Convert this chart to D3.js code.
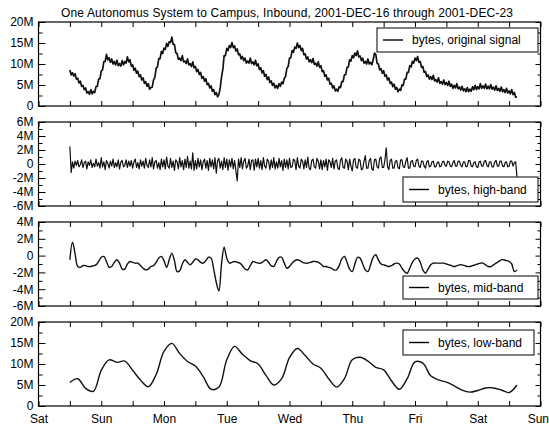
<!DOCTYPE html>
<html>
<head>
<meta charset="utf-8">
<script src="https://cdn.jsdelivr.net/npm/d3@7"></script>
<style>
  body { margin: 0; background: #fff; }
  svg { display: block; font-family: "Liberation Sans", Arial, sans-serif; }
</style>
</head>
<body>
<svg id="chart" width="549" height="429"></svg>
<script>
// days on the x axis (Sat .. Sun)
const dayNames = ["Sat", "Sun", "Mon", "Tue", "Wed", "Thu", "Fri", "Sat", "Sun"];
const startDay = 0.5; // first sample: Saturday noon

// bytes, original signal - one sample every 30 minutes
const original = [
  8.6, 7.4, 7.9, 7.1, 7.7, 6.4, 6.6, 5.5, 5.9, 4.7, 4.9, 3.9, 4.3, 3.1, 3.4, 2.8, 3.9, 2.9, 3.5, 3.2, 4.6, 4.7, 6.4, 6.5,
  8.3, 8.6, 10.6, 10.6, 12.3, 11.0, 11.5, 10.4, 11.2, 10.0, 10.6, 9.8, 10.9, 9.6, 10.1, 9.5, 10.8, 9.8, 10.6, 10.2, 11.7, 10.5, 11.0, 9.5,
  9.8, 8.5, 9.0, 7.8, 8.3, 7.0, 7.4, 6.2, 6.7, 5.4, 5.8, 4.7, 5.3, 4.0, 4.4, 4.5, 6.2, 6.8, 9.0, 9.3, 11.3, 11.3, 13.0, 12.5,
  13.8, 13.5, 14.9, 14.2, 15.3, 15.1, 16.4, 14.7, 14.6, 12.7, 12.5, 11.1, 11.4, 10.8, 12.0, 10.5, 10.7, 10.1, 11.2, 9.8, 10.1, 9.4, 10.5, 9.1,
  9.4, 8.2, 8.7, 7.5, 8.0, 6.6, 7.0, 5.9, 6.5, 5.1, 5.4, 4.3, 4.8, 3.5, 3.9, 2.7, 3.2, 2.2, 2.7, 4.3, 6.9, 8.7, 12.0, 12.0,
  13.7, 13.2, 14.4, 13.9, 15.1, 13.9, 14.3, 13.1, 13.6, 12.2, 12.4, 11.2, 11.8, 10.8, 11.4, 10.2, 10.7, 10.2, 11.4, 10.1, 10.5, 9.8, 10.9, 9.6,
  10.0, 8.7, 9.1, 7.9, 8.4, 7.1, 7.5, 6.3, 6.9, 5.6, 6.0, 4.9, 5.4, 4.3, 4.9, 4.2, 5.3, 4.7, 5.7, 5.3, 6.6, 7.0, 9.0, 9.4,
  11.4, 11.5, 13.2, 12.8, 14.0, 13.7, 15.0, 13.9, 14.4, 13.2, 13.7, 12.2, 12.4, 11.2, 11.7, 10.5, 11.0, 10.3, 11.3, 9.9, 10.2, 9.5, 10.5, 9.2,
  9.6, 8.2, 8.4, 7.1, 7.4, 6.2, 6.6, 5.2, 5.4, 4.3, 4.8, 3.6, 4.0, 3.5, 4.6, 4.4, 5.8, 5.8, 7.4, 7.5, 9.2, 9.3, 11.0, 10.7,
  12.0, 11.5, 12.6, 12.0, 13.1, 11.7, 11.9, 10.8, 11.4, 10.2, 10.6, 10.0, 11.2, 10.0, 10.4, 9.8, 11.0, 12.6, 12.3, 10.2, 10.0, 8.6, 8.9, 7.8,
  8.4, 7.1, 7.4, 6.2, 6.7, 5.4, 5.7, 4.6, 5.2, 4.0, 4.4, 3.4, 4.0, 3.7, 5.0, 4.9, 6.4, 6.4, 8.0, 8.0, 9.6, 9.3, 10.6, 10.2,
  11.4, 10.8, 11.8, 10.4, 10.6, 9.2, 9.4, 8.0, 8.2, 7.0, 7.4, 6.4, 7.0, 6.3, 7.3, 6.0, 6.3, 5.7, 6.7, 5.4, 5.8, 5.2, 6.2, 5.1,
  5.6, 4.9, 5.9, 4.7, 5.2, 4.2, 4.9, 4.3, 5.3, 4.1, 4.5, 3.8, 4.7, 3.6, 4.1, 3.4, 4.4, 3.4, 4.0, 3.5, 4.6, 3.9, 4.9, 3.9,
  4.6, 4.1, 5.3, 4.2, 4.8, 4.2, 5.2, 4.1, 4.7, 4.1, 5.1, 4.0, 4.5, 3.8, 4.8, 3.7, 4.2, 3.5, 4.5, 3.4, 3.9, 3.2, 4.2, 3.1,
  3.6, 2.9, 3.9, 2.7, 3.2, 2.1, 2.2
];

// bytes, high-band - one sample every 30 minutes
const highBand = [
  2.5, -1.2, 0.3, -0.6, 0.4, -0.2, 0.5, -0.4, -0.1, 0.6, -0.5, 0.2, 0.4, -0.7, 0.3, -0.2, 0.6, -0.5, 0.1, -0.4, 0.7, -0.3, 0.2, -0.6,
  0.9, -0.4, 0.3, -0.8, 0.5, 0.1, -0.6, 0.4, -0.3, 0.7, -0.5, 0.2, -0.4, 0.6, -0.7, 0.3, 0.5, -0.4, -0.2, 0.6, -0.5, 0.4, -0.3, 0.5,
  -0.6, 0.3, 0.7, -0.5, 0.2, -0.7, 0.6, -0.3, 0.4, -0.6, 0.8, -0.2, -0.5, 0.6, -0.4, 0.9, -0.7, 0.3, 0.5, -0.6, 0.2, -0.8, 0.7, -0.4,
  0.6, -0.7, 1.0, -0.3, -0.6, 0.8, -0.5, 0.4, -0.9, 0.6, 0.3, -0.7, 0.9, -0.4, 0.5, -0.8, 0.7, -0.5, 1.1, -0.6, 0.4, -0.7, 1.6, -0.9,
  0.5, -0.7, 0.8, -0.4, 0.6, -0.8, 0.3, 0.7, -0.6, 0.5, -0.9, 0.8, -0.4, 0.6, -0.7, 0.9, -1.3, 0.5, 0.8, -0.6, 0.4, -0.8, 0.9, -0.5,
  0.7, -0.9, 0.6, -0.4, 0.8, -0.7, 0.5, -1.0, -2.4, 0.7, -0.5, 0.9, -0.7, 0.4, 0.8, -0.6, -0.3, 0.7, -0.8, 0.5, 0.6, -0.9, 0.7, -0.4,
  0.8, -0.6, 0.5, -0.8, 0.9, -0.3, -0.6, 0.7, 0.4, -0.8, 0.6, -0.5, 0.9, -0.7, 0.3, -0.6, 0.8, -0.4, 0.5, -0.9, 0.7, -0.5, 0.6, -0.7,
  0.8, -0.5, -0.4, 0.7, 0.5, -0.8, 0.9, -0.3, -0.6, 0.7, 0.4, -0.7, 0.6, -0.5, 1.0, -0.6, -0.8, 0.5, 0.7, -0.4, -0.6, 0.8, 0.4, -0.7,
  0.6, -0.8, 0.5, -0.4, 0.7, -0.9, 0.6, 0.3, -0.5, 0.8, -0.7, 0.4, 0.6, -0.6, -0.8, 0.5, 0.9, -0.5, -0.6, 0.7, 0.4, -0.8, 0.7, -0.3,
  -1.0, 0.6, 0.8, -0.5, -0.6, 0.7, 0.5, -0.8, -0.7, 0.4, 1.2, -0.6, -0.6, 0.5, 0.8, -0.7, -0.9, 0.6, 0.7, -0.4, -0.6, 0.8, 1.0, -0.5,
  -0.5, 0.6, 2.3, -0.4, -0.8, 0.5, 0.7, -0.6, -0.6, 0.4, 0.5, -0.5, -0.7, 0.6, 0.6, -0.4, -0.5, 0.4, 0.9, -0.6, -0.6, 0.4, 0.5, -0.3,
  -0.4, 0.5, 0.7, -0.3, -0.5, 0.4, 0.4, -0.3, -0.6, 0.3, 0.5, -0.4, -0.3, 0.3, 0.4, -0.4, -0.4, 0.2, 0.3, -0.4, -0.3, 0.3, 0.4, -0.2,
  -0.3, 0.4, 0.3, -0.3, -0.4, 0.2, 0.5, -0.3, -0.3, 0.4, 0.4, -0.2, -0.4, 0.3, 0.3, -0.4, -0.3, 0.5, 0.5, -0.3, -0.4, 0.2, 0.3, -0.4,
  -0.5, 0.3, 0.4, -0.3, -0.3, 0.4, 0.5, -0.2, -0.4, 0.3, 0.3, -0.4, -0.4, 0.3, 0.5, -0.3, -0.3, 0.4, 0.4, -0.3, -0.4, 0.2, 0.3, -0.4,
  -0.3, 0.4, 0.4, -0.3, 0.2, 0.3, -1.8
];

// bytes, mid-band - hourly samples
const midBand = [
  -0.5, 1.6, 0.2, -1.3, -1.4, -1.2, -1.2, -1.3, -1.3, -1.2, -1.1, -0.7, -0.2, -0.1, -0.7, -1.4,
  -1.3, -0.8, -0.5, -0.9, -1.6, -1.6, -1.0, -0.7, -0.8, -0.9, -0.9, -1.2, -1.5, -1.7, -1.6, -1.3,
  -1.2, -0.8, -0.3, -0.1, -0.6, -1.4, -0.5, 0.3, -0.6, -1.9, -1.8, -1.0, -0.5, -0.8, -1.1, -0.8,
  -0.4, -0.5, -0.8, -0.9, -0.6, -0.2, -0.3, -1.6, -3.2, -4.2, -1.0, 1.0, -0.3, -0.9, -0.8, -0.7,
  -0.8, -0.9, -1.2, -1.6, -1.7, -1.2, -0.7, -0.8, -0.9, -0.9, -0.7, -0.5, -0.8, -1.2, -1.3, -0.7,
  -0.2, -0.2, -0.9, -1.5, -1.3, -0.9, -0.6, -0.5, -0.6, -0.8, -0.9, -0.9, -0.8, -0.7, -0.7, -0.8,
  -1.0, -1.3, -1.3, -1.4, -1.5, -1.7, -1.7, -1.2, -0.4, -0.1, -0.8, -1.6, -1.9, -1.0, -0.2, -0.3,
  -1.0, -1.7, -1.9, -1.1, -0.2, 0.1, -0.5, -1.0, -1.1, -1.2, -1.3, -1.2, -1.0, -0.9, -1.0, -1.5,
  -1.9, -2.1, -1.5, -0.8, -0.4, -0.3, -0.8, -1.7, -2.1, -1.6, -1.1, -0.9, -0.9, -0.9, -0.9, -0.9,
  -1.0, -1.1, -1.2, -1.3, -1.2, -1.1, -1.1, -1.2, -1.3, -1.3, -1.2, -1.1, -1.0, -0.9, -0.9, -1.1,
  -1.3, -1.3, -1.1, -0.9, -0.7, -0.5, -0.5, -0.6, -0.7, -1.0, -1.9, -1.7
];

// bytes, low-band - samples every 3 hours
const lowBand = [
  5.6, 6.5, 4.2, 3.5, 8.5, 11.0, 10.4, 10.7, 8.5, 6.2, 4.6, 7.5, 13.0, 14.9, 12.5, 10.6,
  9.5, 7.0, 4.0, 4.5, 11.0, 14.2, 12.3, 10.8, 10.0, 7.3, 5.0, 6.5, 11.5, 13.7, 12.0, 10.0,
  9.0, 6.5, 4.5, 6.5, 11.0, 11.6, 10.7, 9.2, 8.6, 6.0, 4.0, 6.5, 10.5, 10.2, 7.2, 6.2,
  5.7, 4.8, 3.8, 3.3, 3.7, 4.3, 4.3, 3.8, 3.2, 5.0
];

const svg = d3.select("#chart");
const left = 38.5, right = 540.5, panelH = 84;

const x = d3.scaleLinear().domain([0, 8]).range([left, right]);
const fmt = d => d === 0 ? "0" : `${d / 1e6}M`;

const panels = [
  { top: 22, data: original, step: 0.5, domain: [0, 20e6], major: 5e6, minor: 2.5e6,
    label: "bytes, original signal", box: { x: 377, dy: 6, w: 161, h: 24 }, width: 1.7, curve: d3.curveLinear },
  { top: 122, data: highBand, step: 0.5, domain: [-6e6, 6e6], major: 2e6, minor: 1e6,
    label: "bytes, high-band", box: { x: 403, dy: 55, w: 135, h: 25 }, width: 1.2, curve: d3.curveLinear },
  { top: 222, data: midBand, step: 1, domain: [-6e6, 4e6], major: 2e6, minor: 1e6,
    label: "bytes, mid-band", box: { x: 403, dy: 54, w: 135, h: 23 }, width: 1.4, curve: d3.curveCatmullRom },
  { top: 322, data: lowBand, step: 3, domain: [0, 20e6], major: 5e6, minor: 2.5e6,
    label: "bytes, low-band", box: { x: 403, dy: 8, w: 131, h: 25 }, width: 1.4, curve: d3.curveCatmullRom }
];

svg.append("text")
  .attr("x", 287)
  .attr("y", 17)
  .attr("text-anchor", "middle")
  .attr("font-size", "12px")
  .attr("textLength", 452)
  .attr("lengthAdjust", "spacing")
  .text("One Autonomus System to Campus, Inbound, 2001-DEC-16 through 2001-DEC-23");

const halfDays = d3.range(0, 8.01, 0.5);

panels.forEach((p, i) => {
  const y = d3.scaleLinear().domain(p.domain).range([p.top + panelH, p.top]);
  const g = svg.append("g");
  const majors = d3.range(p.domain[0], p.domain[1] + 1, p.major);
  const minors = d3.range(p.domain[0], p.domain[1] + 1, p.minor).filter(v => !majors.includes(v));
  const isLast = i === panels.length - 1;

  // y axes: labels on the left, inward ticks on both sides
  g.append("g").attr("transform", `translate(${left},0)`)
    .call(d3.axisLeft(y).tickValues(majors).tickSize(-7).tickPadding(5).tickFormat(fmt));
  g.append("g").attr("transform", `translate(${left},0)`)
    .call(d3.axisLeft(y).tickValues(minors).tickSize(-4).tickFormat(""));
  g.append("g").attr("transform", `translate(${right},0)`)
    .call(d3.axisRight(y).tickValues(majors).tickSize(-5).tickFormat(""));
  g.append("g").attr("transform", `translate(${right},0)`)
    .call(d3.axisRight(y).tickValues(minors).tickSize(-3).tickFormat(""));

  // x axes: half-day ticks top and bottom, day labels only under the last panel
  g.append("g").attr("transform", `translate(0,${p.top})`)
    .call(d3.axisTop(x).tickValues(halfDays).tickSize(-5).tickFormat(""));
  const xb = g.append("g").attr("transform", `translate(0,${p.top + panelH})`)
    .call(d3.axisBottom(x).tickValues(halfDays).tickSize(-5).tickPadding(8)
      .tickFormat(d => (isLast && Number.isInteger(d)) ? dayNames[d] : ""));

  g.selectAll(".domain").remove();
  g.selectAll(".tick line").attr("stroke", "#000");
  g.selectAll(".tick text").attr("font-size", "12px").attr("fill", "#000")
    .attr("font-family", "'Liberation Sans', Arial, sans-serif");

  if (isLast) {
    // keep the final "Sun" inside the window
    xb.selectAll(".tick text").filter(d => d === 8)
      .attr("text-anchor", "end").attr("x", 8);
  }

  g.append("rect")
    .attr("x", left).attr("y", p.top)
    .attr("width", right - left).attr("height", panelH)
    .attr("fill", "none").attr("stroke", "#000").attr("stroke-width", 1.2);

  const line = d3.line()
    .x((d, k) => x(startDay + k * p.step / 24))
    .y(d => y(d * 1e6))
    .curve(p.curve);

  g.append("path")
    .datum(p.data)
    .attr("d", line)
    .attr("fill", "none")
    .attr("stroke", "#111")
    .attr("stroke-width", p.width)
    .attr("stroke-linejoin", "round");

  // legend
  const by = p.top + p.box.dy;
  const lg = g.append("g");
  lg.append("rect")
    .attr("x", p.box.x).attr("y", by)
    .attr("width", p.box.w).attr("height", p.box.h)
    .attr("fill", "#fff").attr("stroke", "#000").attr("stroke-width", 1);
  lg.append("line")
    .attr("x1", p.box.x + 6).attr("x2", p.box.x + 26)
    .attr("y1", by + p.box.h / 2).attr("y2", by + p.box.h / 2)
    .attr("stroke", "#000").attr("stroke-width", 1.4);
  lg.append("text")
    .attr("x", p.box.x + 35)
    .attr("y", by + p.box.h / 2 + 4)
    .attr("font-size", "12px")
    .text(p.label);
});
</script>
</body>
</html>
